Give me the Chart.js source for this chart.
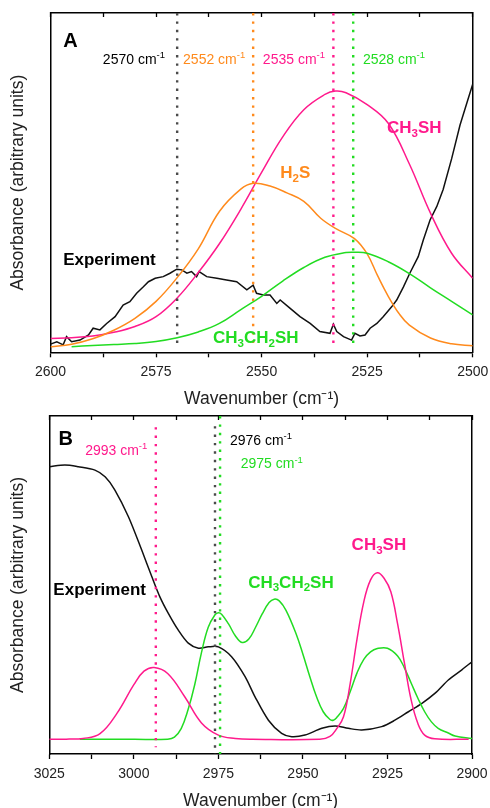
<!DOCTYPE html>
<html><head><meta charset="utf-8">
<script src="https://cdn.jsdelivr.net/npm/chart.js@4.4.0/dist/chart.umd.min.js"></script>
<style>
html,body{margin:0;padding:0;background:#fff;overflow:hidden;width:490px;height:808px}
#ca{position:absolute;left:0;top:0}
#cb{position:absolute;left:0;top:404px}
</style></head><body>
<canvas id="ca" width="490" height="410"></canvas>
<canvas id="cb" width="490" height="408"></canvas>
<script>
// ---------- Panel A data (2600-2500 cm-1) ----------
const expA_wn = [2600,2598.5,2597,2596.2,2595,2593,2591,2589.9,2588.3,2586.7,2584.7,2582.8,2581.2,2579.6,2578,2576.8,2575.2,2573.3,2571.7,2570.1,2568.9,2567.7,2566.6,2565.4,2564.8,2563,2560.6,2558.3,2555.9,2553.5,2552,2551.2,2549.6,2548,2546.4,2545.6,2543.3,2540.9,2538.5,2536.2,2533.8,2533,2532.2,2530.6,2528.7,2527.9,2526.7,2525.5,2524.3,2522.7,2521.2,2519.2,2518,2516.4,2514.9,2512.9,2511.7,2510.1,2508.5,2507,2505,2503,2501,2500];
const expA_abs = [2.4,3.1,2.2,4.6,3.1,3.6,5.1,7.1,6.6,8.5,10.5,13.9,14.9,17.4,19.3,20.8,21.8,22.3,23.3,24.5,24.3,23.3,23.8,22.3,23.8,22.3,21.8,21.3,20.8,18.4,19.8,17.4,16.9,16.9,14.4,15.4,13,10.5,8.5,6.1,5.6,8.3,6.1,4.6,3.6,5.6,4.8,5.1,7.1,8.5,10.5,13.4,15.4,19.3,23.3,28.2,33.1,39,43,48,57,67,75,79];

const ch3shA_wn  = [2600,2595,2590,2585,2580,2575,2570,2565,2560,2555,2550,2545,2540,2535,2532.5,2530,2525,2520,2515,2510,2505,2500];
const ch3shA_abs = [4.1,4.3,4.8,5.9,7.6,10.5,16,23.5,32,42,53,63.5,71.5,76,77,76.5,73,67.5,55.5,41,29.2,21.8];

const h2sA_wn  = [2600,2595,2590,2585,2580,2575,2570,2565,2560,2555,2552,2548,2544,2540,2536,2532.5,2528,2525,2522.5,2520,2517.5,2515,2510,2505,2500];
const h2sA_abs = [1.6,2.4,4,6.5,10,15,22,30.5,41.5,48,49.8,49,47,44.5,39.5,36.5,33.5,29,22.5,16.5,11.5,8,4.2,2.5,1.9];

const etshA_wn  = [2595,2590,2585,2580,2575,2570,2565,2560,2555,2550,2545,2540,2535,2530,2528,2525,2520,2515,2510,2505,2500];
const etshA_abs = [1.65,2.0,2.3,2.6,3.2,4.3,6,8.5,12.5,16.5,21,25,28,29.4,29.5,29.2,26.7,23.2,19,15,11];

const markA_wn = [2570, 2552, 2533, 2528.3];

// ---------- Panel B data (3025-2900 cm-1) ----------
const expB_wn  = [3025,3020.4,3016.4,3011.5,3008.5,3005.6,3001.6,2997.7,2994.7,2992.3,2989.8,2986.9,2983.9,2980.9,2978,2975,2971.1,2967.1,2964.2,2960.2,2956.3,2953.3,2949.4,2944.4,2940.5,2936.6,2932.6,2926.7,2922.8,2918.8,2914.8,2910.9,2907,2903,2900];
const expB_abs = [85,85.5,85,84,82,78.1,70.2,60.4,52.5,46.5,41.6,36.7,32.8,31.3,31.7,31.7,28.8,22.9,17,10,6.1,5.1,5.6,7.6,8.3,7.6,7.1,8.1,10,12.5,15,18,21.9,24.9,27.3];

const ch3shB_wn  = [3025,3020,3015,3010,3005,3000,2997,2994,2990,2985,2980,2975,2970,2965,2945,2942,2940,2938,2936,2934,2932,2930,2928,2926,2924,2922,2920,2918,2916,2914,2911,2901];
const ch3shB_abs = [4.35,4.4,4.6,6,12,20.5,24.5,25.6,23.8,17,9.2,5.6,4.6,4.35,4.35,5.2,7.5,11,21,34,45,51.5,53.6,52,48,38.5,27,16,9,5.6,4.5,4.35];

const etshB_wn  = [3016,3000,2990,2988,2986,2984,2982,2980,2978,2976,2975,2974,2972,2970,2968,2966,2964,2962,2960,2958.5,2957,2955,2952,2950,2948,2946,2944,2942,2941,2940,2938,2936,2934,2932,2930,2928,2925,2922,2920,2918,2916,2914,2912,2910,2907,2905,2900];
const etshB_abs = [4.35,4.35,4.4,5,7.5,13,20.5,30,37.5,41.2,41.8,41.3,38.5,35,33,34,37.5,41.5,44.8,45.8,45.3,42.5,35.5,29.5,23,17,12.5,10.2,10,10.8,13.5,18.5,24,28,30.2,31.2,31.3,29,25.5,21,16.5,12.5,9.5,7.6,6.2,5.3,4.6];

const markB_wn = [2993.5, 2976, 2974.5];

// ---------- styles ----------
const PINK = '#ff1a8c', ORANGE = '#ff8a1c', GREEN = '#22dc22', BLACK = '#111', GREY = '#4a4a4a';
const FAM = 'Arial, "Liberation Sans", Helvetica, sans-serif';

function pts(xs, ys){ return xs.map((x,i)=>({x:x, y:ys[i]})); }
function curve(xs, ys, color, tension){
  return {data: pts(xs, ys), borderColor: color, borderWidth: 1.5, pointRadius: 0, tension: tension, fill: false};
}
function vline(x, color, lo, hi){
  return {data: [{x:x, y:hi},{x:x, y:lo}], borderColor: color, borderWidth: 2.4, borderDash: [2.4, 6], pointRadius: 0, fill:false};
}

function drawRich(ctx, text, x, y, size, bold, color){
  const segs = []; let i = 0;
  while (i < text.length){
    const c = text[i];
    if (c === '_'){ segs.push({t:text[i+1], k:'sub'}); i += 2; }
    else if (c === '^'){ const j = text.indexOf('}', i); segs.push({t:text.slice(i+2, j), k:'sup'}); i = j+1; }
    else { let j = i; while (j < text.length && text[j] !== '_' && text[j] !== '^') j++; segs.push({t:text.slice(i,j), k:'n'}); i = j; }
  }
  ctx.save();
  ctx.fillStyle = color; ctx.textBaseline = 'alphabetic'; ctx.textAlign = 'left';
  let cx = x;
  for (const s of segs){
    const fs = s.k === 'n' ? size : size*0.68;
    ctx.font = (bold ? 'bold ' : '') + fs + 'px ' + FAM;
    const dy = s.k === 'sub' ? size*0.22 : (s.k === 'sup' ? -size*0.42 : 0);
    ctx.fillText(s.t, cx, y + dy);
    cx += ctx.measureText(s.t).width;
  }
  ctx.restore();
}

const richLabels = {
  id: 'richLabels',
  afterDatasetsDraw(chart, args, opts){
    const xs = chart.scales.x, ys = chart.scales.y, ctx = chart.ctx;
    for (const L of opts.items){
      drawRich(ctx, L.text, xs.getPixelForValue(L.x), ys.getPixelForValue(L.y), L.size, L.bold, L.color);
    }
  }
};

function makeOptions(min, max, dims, items){
  return {
    responsive: false, animation: false,
    layout: {padding: {left: 0, right: dims.right, top: 0, bottom: 0}},
    plugins: {legend: {display: false}, tooltip: {enabled: false}, richLabels: {items: items}},
    scales: {
      x: {
        type: 'linear', reverse: true, min: min, max: max, position: 'bottom',
        ticks: {stepSize: 12.5, autoSkip: false, maxRotation: 0, padding: 1,
                callback: v => (v % 25 === 0 ? String(v) : ''),
                font: {family: FAM, size: 14, lineHeight: '28px'}, color: '#222'},
        grid: {display: true, drawOnChartArea: false, drawTicks: true, tickLength: 5, color: '#000', tickWidth: 1.3},
        border: {display: true, color: '#000', width: 1.5},
        title: {display: true, text: 'Wavenumber (cm⁻¹)', font: {family: FAM, size: 17.5}, color: '#222', padding: {top: 0, bottom: 0}},
        afterFit: s => { s.height = dims.xh; }
      },
      x2: {
        type: 'linear', reverse: true, min: min, max: max, position: 'top',
        ticks: {display: false, stepSize: 12.5},
        grid: {display: true, drawOnChartArea: false, drawTicks: true, tickLength: -4, color: '#000', tickWidth: 1.3},
        border: {display: true, color: '#000', width: 1.5},
        afterFit: s => { s.height = dims.top; }
      },
      y: {
        min: 0, max: 100, position: 'left',
        ticks: {display: false},
        grid: {display: false},
        border: {display: true, color: '#000', width: 1.5},
        title: {display: true, text: 'Absorbance (arbitrary units)', font: {family: FAM, size: 17.5}, color: '#222', padding: {top: 8, bottom: 0}},
        afterFit: s => { s.width = dims.yw; }
      },
      y2: {
        min: 0, max: 100, position: 'right',
        ticks: {display: false},
        grid: {display: false},
        border: {display: true, color: '#000', width: 1.5},
        afterFit: s => { s.width = 0; }
      }
    }
  };
}

// ---------- Chart A ----------
new Chart(document.getElementById('ca'), {
  type: 'line',
  data: {datasets: [
    vline(markA_wn[0], GREY, 2, 100),
    vline(markA_wn[1], ORANGE, 2, 100),
    vline(markA_wn[2], PINK, 2, 100),
    vline(markA_wn[3], GREEN, 1.5, 100),
    curve(etshA_wn, etshA_abs, GREEN, 0.4),
    curve(h2sA_wn, h2sA_abs, ORANGE, 0.4),
    curve(ch3shA_wn, ch3shA_abs, PINK, 0.4),
    curve(expA_wn, expA_abs, BLACK, 0)
  ]},
  options: makeOptions(2500, 2600, {right: 17.3, xh: 57.7, top: 13, yw: 50.5}, [
    {text: 'A', x: 2597.0, y: 90.1, size: 20, bold: true, color: '#000'},
    {text: '2570 cm^{-1}', x: 2587.6, y: 84.9, size: 14, bold: false, color: '#000'},
    {text: '2552 cm^{-1}', x: 2568.6, y: 84.9, size: 14, bold: false, color: ORANGE},
    {text: '2535 cm^{-1}', x: 2549.7, y: 84.9, size: 14, bold: false, color: PINK},
    {text: '2528 cm^{-1}', x: 2526.0, y: 84.9, size: 14, bold: false, color: GREEN},
    {text: 'CH_3SH', x: 2520.3, y: 64.7, size: 17, bold: true, color: PINK},
    {text: 'H_2S', x: 2545.6, y: 51.3, size: 17, bold: true, color: ORANGE},
    {text: 'Experiment', x: 2597.0, y: 25.7, size: 17, bold: true, color: '#000'},
    {text: 'CH_3CH_2SH', x: 2561.5, y: 2.8, size: 17, bold: true, color: GREEN}
  ]),
  plugins: [richLabels]
});

// ---------- Chart B ----------
new Chart(document.getElementById('cb'), {
  type: 'line',
  data: {datasets: [
    vline(markB_wn[0], PINK, 2, 96.7),
    vline(markB_wn[1], GREY, -1, 97),
    vline(markB_wn[2], GREEN, -1, 100),
    curve(ch3shB_wn, ch3shB_abs, PINK, 0.4),
    curve(etshB_wn, etshB_abs, GREEN, 0.4),
    curve(expB_wn, expB_abs, BLACK, 0.3)
  ]},
  options: makeOptions(2900, 3025, {right: 18, xh: 58, top: 12, yw: 49.3}, [
    {text: 'B', x: 3022.3, y: 91.4, size: 20, bold: true, color: '#000'},
    {text: '2993 cm^{-1}', x: 3014.4, y: 88.5, size: 14, bold: false, color: PINK},
    {text: '2976 cm^{-1}', x: 2971.6, y: 91.4, size: 14, bold: false, color: '#000'},
    {text: '2975 cm^{-1}', x: 2968.4, y: 84.5, size: 14, bold: false, color: GREEN},
    {text: 'CH_3SH', x: 2935.6, y: 60.4, size: 17, bold: true, color: PINK},
    {text: 'CH_3CH_2SH', x: 2966.2, y: 49.2, size: 17, bold: true, color: GREEN},
    {text: 'Experiment', x: 3023.8, y: 47.0, size: 17, bold: true, color: '#000'}
  ]),
  plugins: [richLabels]
});
</script>
</body></html>
